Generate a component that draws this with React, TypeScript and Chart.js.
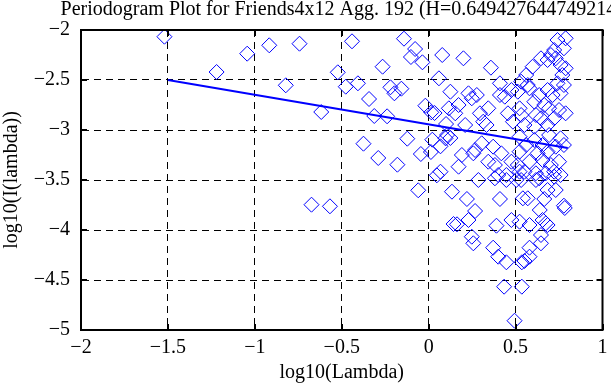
import React, { useEffect, useRef } from "react";
import { Chart, registerables } from "chart.js";

Chart.register(...registerables);

const TITLE = "Periodogram Plot for Friends4x12 Agg. 192 (H=0.649427644749214)";
const X_LABEL = "log10(Lambda)";
const Y_LABEL = "log10(I(lambda))";
const X_MIN = -2;
const X_MAX = 1;
const Y_MIN = -5;
const Y_MAX = -2;
const TICK_STEP = 0.5;

// periodogram points (log10 lambda, log10 I(lambda))
const pointX = [
  -1.52, -1.22, -1.044, -0.917, -0.743, -0.822, -0.618, -0.674, -0.568, -0.441,
  -0.523, -0.477, -0.407, -0.343, -0.265, -0.313, -0.239, -0.375, -0.29, -0.18,
  -0.22, -0.197, -0.157, -0.142, -0.078, -0.102, -0.036, 0.078, -0.123, -0.045,
  -0.06, -0.019, 0.015, 0.034, 0.021, 0.013, 0.068, 0.047, 0.059, 0.125,
  0.116, 0.1, 0.097, 0.125, 0.134, 0.143,
  0.2, 0.358, 0.41, 0.229, 0.277, 0.41, 0.476, 0.172, 0.153, 0.295,
  0.343, 0.314, 0.333, 0.456, 0.485, 0.21, 0.106, 0.305, 0.267, 0.371,
  0.191, 0.257, 0.418, 0.523, 0.172, 0.343, 0.381, 0.476, 0.447, 0.4,
  0.068, 0.523,
  0.286, 0.381, 0.447, 0.504, 0.22, 0.41, 0.542, 0.267, 0.229, 0.163,
  0.39, 0.476, 0.523, 0.248, 0.257, 0.371, 0.4, 0.447, 0.536, 0.434,
  0.536, 0.494,
  0.788, 0.741, 0.778, 0.722, 0.703, 0.731, 0.684, 0.759, 0.788, 0.598,
  0.561, 0.769, 0.532, 0.57, 0.741, 0.778, 0.684, 0.713, 0.759, 0.513,
  0.636, 0.608, 0.665, 0.693, 0.75, 0.788, 0.523, 0.532, 0.617, 0.646,
  0.722, 0.684, 0.551, 0.608, 0.693, 0.759, 0.608, 0.561, 0.655, 0.731,
  0.778, 0.523, 0.627, 0.684, 0.58, 0.655, 0.703, 0.75, 0.513, 0.551,
  0.617, 0.674, 0.722, 0.759, 0.636,
  0.532, 0.617, 0.722, 0.57, 0.665, 0.684, 0.731, 0.778, 0.783, 0.639,
  0.58, 0.655, 0.674, 0.684, 0.646, 0.646, 0.58, 0.58, 0.551,
  0.646, 0.58, 0.438, 0.248,
];
const pointY = [
  -2.067, -2.42, -2.237, -2.153, -2.137, -2.553, -2.82, -3.747, -3.763, -2.113,
  -2.423, -2.567, -2.533, -2.69, -2.367, -2.86, -2.863, -3.137, -3.28, -3.347,
  -2.573, -2.633, -2.587, -2.087, -2.19, -2.27, -2.323, -2.25, -3.087, -3.24,
  -3.603, -2.757, -2.823, -2.83, -3.097, -3.22, -3.163, -3.453, -2.483, -2.617,
  -2.783, -2.94, -3.083, -3.08, -3.617, -3.94,
  -2.283, -2.377, -2.533, -2.633, -2.65, -2.65, -2.6, -2.75, -2.833, -2.833,
  -2.783, -2.917, -2.95, -2.833, -2.917, -2.95, -3.05, -3.133, -3.2, -3.167,
  -3.25, -3.233, -3.233, -3.067, -3.367, -3.317, -3.35, -3.317, -3.45, -3.45,
  -3.417, -3.417,
  -3.5, -3.483, -3.5, -3.5, -3.69, -3.69, -3.683, -3.81, -3.9, -3.943,
  -3.957, -3.9, -3.917, -4.067, -4.133, -4.177, -4.267, -4.323, -4.323, -4.567,
  -4.567, -4.907,
  -2.083, -2.1, -2.183, -2.2, -2.25, -2.283, -2.3, -2.35, -2.383, -2.367,
  -2.45, -2.45, -2.517, -2.55, -2.533, -2.55, -2.6, -2.65, -2.633, -2.617,
  -2.65, -2.717, -2.75, -2.783, -2.8, -2.833, -2.783, -2.85, -2.85, -2.883,
  -2.883, -2.95, -2.95, -2.967, -3.05, -3.083, -3.1, -3.15, -3.15, -3.167,
  -3.15, -3.217, -3.233, -3.217, -3.317, -3.3, -3.35, -3.317, -3.35, -3.417,
  -3.433, -3.433, -3.417, -3.45, -3.483,
  -3.5, -3.5, -3.467, -3.683, -3.69, -3.6, -3.6, -3.757, -3.78, -3.8,
  -3.95, -3.9, -3.933, -3.95, -4.05, -4.133, -4.177, -4.267, -4.31,
  -2.283, -2.583, -2.667, -2.683,
];

// least-squares fit line
const fitX = [-1.5, 0.8];
const fitY = [-2.5, -3.18];

const FONT_FAMILY = '"Liberation Serif", "Times New Roman", serif';
const FONT_SIZE = 20;

const fmt = (v: number | string) => String(v).replace("-", "\u2212");

const framePlugin = {
  id: "frameAndTitle",
  afterDraw(chart: any) {
    const { ctx, chartArea: a, scales } = chart;
    ctx.save();
    ctx.strokeStyle = "#000";
    ctx.lineWidth = 2;
    ctx.setLineDash([]);
    ctx.strokeRect(a.left, a.top, a.right - a.left, a.bottom - a.top);
    const tl = 6;
    ctx.beginPath();
    scales.x.ticks.forEach((t: any) => {
      const px = Math.round(scales.x.getPixelForValue(t.value));
      ctx.moveTo(px, a.bottom);
      ctx.lineTo(px, a.bottom - tl);
      ctx.moveTo(px, a.top);
      ctx.lineTo(px, a.top + tl);
    });
    scales.y.ticks.forEach((t: any) => {
      const py = Math.round(scales.y.getPixelForValue(t.value));
      ctx.moveTo(a.left, py);
      ctx.lineTo(a.left + tl, py);
      ctx.moveTo(a.right, py);
      ctx.lineTo(a.right - tl, py);
    });
    ctx.stroke();
    ctx.fillStyle = "#000";
    ctx.font = `${FONT_SIZE}px ${FONT_FAMILY}`;
    ctx.textAlign = "center";
    ctx.textBaseline = "alphabetic";
    ctx.fillText(TITLE, (a.left + a.right) / 2, 15);
    ctx.restore();
  },
};

export default function App() {
  const ref = useRef<HTMLCanvasElement | null>(null);

  useEffect(() => {
    document.body.style.margin = "0";
    if (!ref.current) return;
    const font = { family: FONT_FAMILY, size: FONT_SIZE };
    const chart = new Chart(ref.current, {
      type: "scatter",
      data: {
        datasets: [
          {
            type: "line",
            data: fitX.map((x, i) => ({ x, y: fitY[i] })),
            borderColor: "#0000ff",
            borderWidth: 2,
            pointRadius: 0,
            fill: false,
            order: 0,
            clip: false,
          } as any,
          {
            data: pointX.map((x, i) => ({ x, y: pointY[i] })),
            pointStyle: "rectRot",
            pointRadius: 7.5,
            borderColor: "#0000ff",
            borderWidth: 1,
            backgroundColor: "rgba(0,0,0,0)",
            order: 1,
            clip: false,
          } as any,
        ],
      },
      options: {
        animation: false,
        responsive: false,
        devicePixelRatio: 1,
        layout: { padding: { top: 30, right: 3, left: 0, bottom: 0 } },
        plugins: {
          legend: { display: false },
          tooltip: { enabled: false },
          title: { display: false },
        },
        scales: {
          x: {
            type: "linear",
            min: X_MIN,
            max: X_MAX,
            ticks: {
              stepSize: TICK_STEP,
              callback: (v: any) => fmt(v),
              font,
              color: "#000",
              padding: 6,
              maxRotation: 0,
              autoSkip: false,
            },
            grid: { color: "#000", lineWidth: 1, drawTicks: false },
            border: { display: true, color: "#000", width: 2, dash: [7, 5] },
            title: {
              display: true,
              text: X_LABEL,
              font,
              color: "#000",
              padding: { top: 0, bottom: 0 },
            },
            afterFit: (s: any) => {
              s.height = 55;
              s.paddingLeft = 0;
              s.paddingRight = 0;
            },
          },
          y: {
            type: "linear",
            min: Y_MIN,
            max: Y_MAX,
            ticks: {
              stepSize: TICK_STEP,
              callback: (v: any) => fmt(v),
              font,
              color: "#000",
              padding: 11,
            },
            grid: { color: "#000", lineWidth: 1, drawTicks: false },
            border: { display: true, color: "#000", width: 2, dash: [7, 5] },
            title: {
              display: true,
              text: Y_LABEL,
              font,
              color: "#000",
              padding: { top: 0, bottom: 0 },
            },
            afterFit: (s: any) => {
              s.width = 81;
              s.paddingTop = 0;
              s.paddingBottom = 0;
            },
          },
        },
      } as any,
      plugins: [framePlugin],
    });
    return () => chart.destroy();
  }, []);

  return (
    <div style={{ width: 611, height: 385, background: "#fff" }}>
      <canvas ref={ref} width={611} height={385} style={{ display: "block" }} />
    </div>
  );
}
